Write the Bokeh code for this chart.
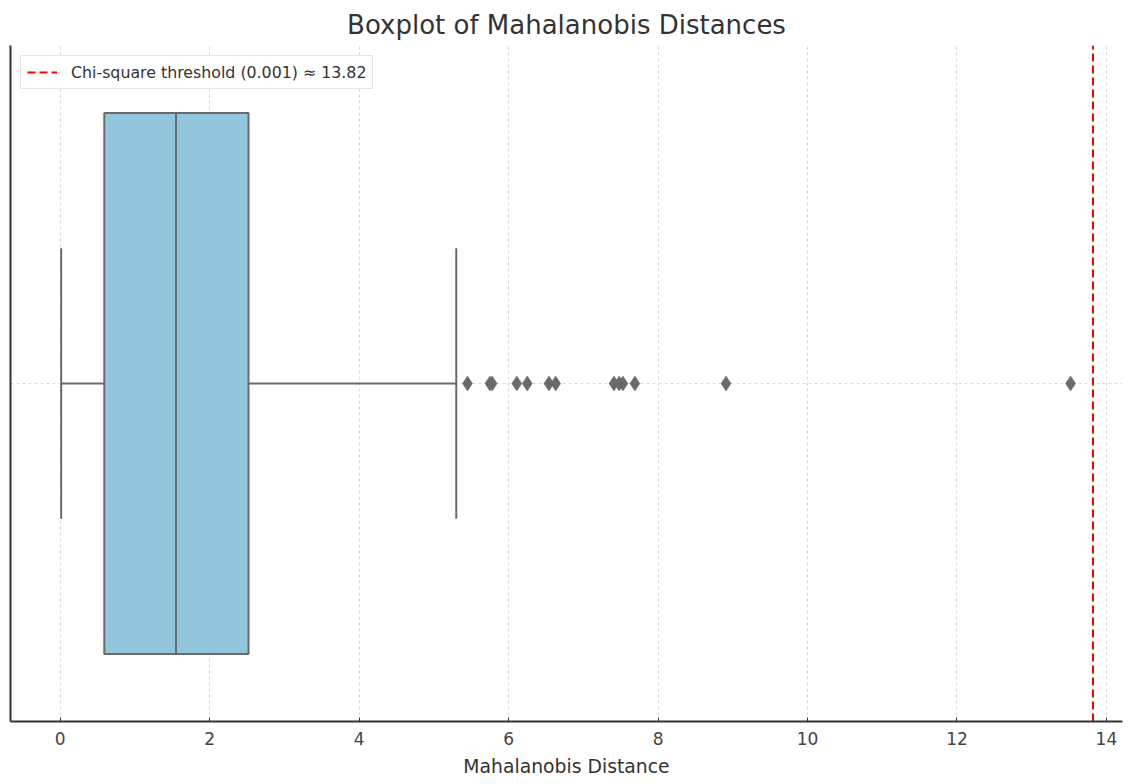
from bokeh.plotting import figure
from bokeh.models import Range1d, FixedTicker, Legend
from bokeh.embed import file_html
from bokeh.resources import INLINE

# ---- data ----
q1 = [0.59]
median = [1.55]
q3 = [2.52]
whisker_low = [0.013]
whisker_high = [5.30]
outliers = [5.45, 5.75, 5.78, 6.11, 6.25, 6.54, 6.63, 7.41, 7.48, 7.53, 7.69, 8.91, 13.52]
threshold = 13.82
threshold_label = "Chi-square threshold (0.001) ≈ 13.82"
x_ticks = [0, 2, 4, 6, 8, 10, 12, 14]
y_grid_ticks = [0]

FONT = "DejaVu Sans"
LINE = "#6a6a6a"
FILL = "#92c6dd"

p = figure(width=1123, height=780, output_backend="svg", toolbar_location=None,
           x_range=Range1d(-0.665, 14.215), y_range=Range1d(-0.5, 0.5),
           title="Boxplot of Mahalanobis Distances",
           min_border_left=10, min_border_right=1, min_border_top=45, min_border_bottom=59)

p.title.align = "center"
p.title.text_font = FONT
p.title.text_font_size = "26px"
p.title.text_font_style = "normal"
p.title.text_color = "#333333"
p.title.standoff = 11
p.outline_line_color = None

# x axis
p.xaxis.ticker = FixedTicker(ticks=x_ticks)
p.xaxis.axis_label = "Mahalanobis Distance"
p.xaxis.axis_label_text_font = FONT
p.xaxis.axis_label_text_font_size = "18.8px"
p.xaxis.axis_label_text_font_style = "normal"
p.xaxis.axis_label_text_color = "#333333"
p.xaxis.axis_label_standoff = 8
p.xaxis.major_label_text_font = FONT
p.xaxis.major_label_text_font_size = "17px"
p.xaxis.major_label_text_color = "#444444"
p.xaxis.major_label_standoff = 10
p.xaxis.major_tick_in = 4
p.xaxis.major_tick_out = 0
p.xaxis.minor_tick_line_color = None
p.xaxis.axis_line_color = "#333333"
p.xaxis.axis_line_width = 2
p.xaxis.major_tick_line_color = "#333333"

# y axis: only the spine
p.yaxis.ticker = FixedTicker(ticks=[])
p.yaxis.major_label_standoff = 0
p.yaxis.major_tick_in = 0
p.yaxis.major_tick_out = 0
p.yaxis.minor_tick_line_color = None
p.yaxis.axis_line_color = "#333333"
p.yaxis.axis_line_width = 2
p.ygrid.ticker = FixedTicker(ticks=y_grid_ticks)

for g in (p.xgrid, p.ygrid):
    g.grid_line_color = "#d9d9d9"
    g.grid_line_dash = "3 3"
    g.grid_line_width = 1

# whiskers
p.segment(x0=whisker_low, y0=[0], x1=q1, y1=[0], line_color=LINE, line_width=2)
p.segment(x0=q3, y0=[0], x1=whisker_high, y1=[0], line_color=LINE, line_width=2)
# caps
p.segment(x0=whisker_low, y0=[-0.2], x1=whisker_low, y1=[0.2], line_color=LINE, line_width=2)
p.segment(x0=whisker_high, y0=[-0.2], x1=whisker_high, y1=[0.2], line_color=LINE, line_width=2)
# box
p.hbar(y=[0], left=q1, right=q3, height=0.8, fill_color=FILL, line_color=LINE, line_width=2)
# median
p.segment(x0=median, y0=[-0.4], x1=median, y1=[0.4], line_color=LINE, line_width=2)
# outliers
p.scatter(x=outliers, y=[0] * len(outliers), marker="diamond", size=15,
          fill_color=LINE, line_color=LINE, line_width=0.5)

# threshold line
thr = p.line(x=[threshold, threshold], y=[-0.5, 0.5], line_color="red",
             line_dash="8 4", line_width=2)

legend = Legend(items=[(threshold_label, [thr])], location="top_left")
legend.label_text_font = FONT
legend.label_text_font_size = "15.8px"
legend.label_text_color = "#333333"
legend.glyph_width = 30
legend.glyph_height = 20
legend.label_standoff = 14
legend.padding = 6
legend.margin = 10
legend.spacing = 0
legend.border_line_color = "#cccccc"
legend.border_line_width = 1
legend.background_fill_alpha = 0.9
p.add_layout(legend)

open("out.html", "w").write(file_html(p, INLINE))
